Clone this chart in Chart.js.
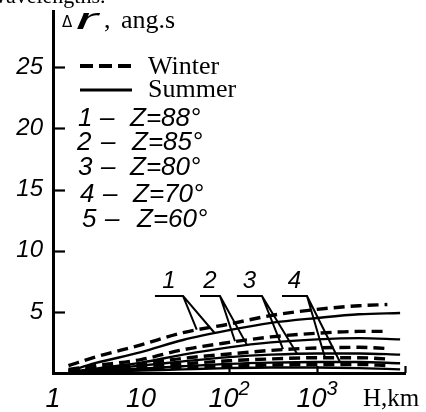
<!DOCTYPE html>
<html><head><meta charset="utf-8">
<script src="https://cdn.jsdelivr.net/npm/chart.js@4"></script>
<style>
html,body{margin:0;padding:0;background:#fff;}
#wrap{position:relative;width:426px;height:412px;overflow:hidden;background:#fff;}
#c{position:absolute;left:0;top:0;}
#ov{position:absolute;left:0;top:0;pointer-events:none;}
.serif{font-family:'Liberation Serif','Times New Roman',serif;}
.isans{font-family:'Liberation Sans',Arial,sans-serif;font-style:italic;}
</style></head><body>
<div id="wrap">
<canvas id="c" width="426" height="412"></canvas>
<svg id="ov" width="426" height="412" xmlns="http://www.w3.org/2000/svg">
  <text class="serif" x="-10" y="3" font-size="22">wavelengths.</text>
  <text x="62" y="27" font-size="15" font-family="DejaVu Sans">Δ</text>
  <text class="isans" x="76" y="29" font-size="30" textLength="22" lengthAdjust="spacingAndGlyphs">r</text>
  <text class="serif" x="104" y="28" font-size="26">,</text>
  <text class="serif" x="121" y="28" font-size="26">ang.s</text>
  <line x1="80" y1="66" x2="131" y2="66" stroke="#000" stroke-width="4" stroke-dasharray="13 6"/>
  <text class="serif" x="148" y="74" font-size="26">Winter</text>
  <line x1="80" y1="90" x2="132" y2="90" stroke="#000" stroke-width="3"/>
  <text class="serif" x="148" y="97" font-size="26">Summer</text>
  <g id="zkey"></g>
  <text class="serif" x="363" y="406" font-size="25">H,km</text>
  <g id="xlabels"></g>
  <g id="clabels"></g>
</svg>
</div>
<script>
// ---- data ----
const hWinter = [1.5, 3, 10, 30, 100, 300, 1000, 3000, 6300];
const hSummer = [1.6, 3, 10, 30, 100, 300, 1000, 3000, 8800];

const winter1 = [0.6, 1.3, 2.3, 3.3, 4.0, 4.7, 5.2, 5.5, 5.6];
const summer1 = [0.2, 0.8, 1.7, 2.7, 3.5, 4.1, 4.5, 4.8, 4.9];
const winter2 = [0.3, 0.6, 1.1, 1.9, 2.5, 2.95, 3.25, 3.4, 3.4];
const summer2 = [0.1, 0.35, 0.85, 1.5, 2.1, 2.5, 2.75, 2.85, 2.75];
const winter3 = [0.2, 0.4, 0.75, 1.2, 1.55, 1.85, 2.05, 2.1, 2.0];
const summer3 = [0.05, 0.25, 0.6, 0.95, 1.3, 1.5, 1.6, 1.6, 1.5];
const winter4 = [0.15, 0.3, 0.5, 0.75, 1.0, 1.15, 1.25, 1.25, 1.15];
const summer4 = [0.05, 0.15, 0.35, 0.55, 0.75, 0.85, 0.9, 0.9, 0.8];
const winter5 = [0.1, 0.2, 0.3, 0.45, 0.55, 0.65, 0.7, 0.7, 0.6];
const summer5 = [0.02, 0.1, 0.2, 0.3, 0.4, 0.45, 0.45, 0.4, 0.3];

const zenithNumbers = ['1', '2', '3', '4', '5'];
const zenithLabels = ['Z=88°', 'Z=85°', 'Z=80°', 'Z=70°', 'Z=60°'];

const yTickValues = [5, 10, 15, 20, 25];
const xTickValues = [1, 10, 100, 1000];
const xTickBase = ['1', '10', '10', '10'];
const xTickSup = ['', '', '2', '3'];
const xTickMarks = [100, 1000, 10000];

// curve-number leaders (data units)
const leaderLabels = ['1', '2', '3', '4'];
const leaderStartH = [14.4, 46.8, 123, 400];
const leaderCornerH = [30, 79, 237, 770];
const leaderLevel = 6.3;
const leaderLabelLevel = 6.95;
const tipWinterH = [43, 117, 411, 1233];
const tipWinterV = [3.55, 2.6, 1.95, 1.25];
const tipSummerH = [69, 160, 593, 1824];
const tipSummerV = [3.25, 2.3, 1.58, 0.9];

// ---- build ----
const winterSeries = [winter1, winter2, winter3, winter4, winter5];
const summerSeries = [summer1, summer2, summer3, summer4, summer5];
const datasets = [];
winterSeries.forEach((vals, k) => {
  datasets.push({
    label: 'Winter ' + zenithLabels[k],
    data: hWinter.map((h, i) => ({x: h, y: vals[i]})),
    borderColor: '#000', borderWidth: 3.4, borderDash: [11, 6],
    pointRadius: 0, cubicInterpolationMode: 'monotone', fill: false
  });
  datasets.push({
    label: 'Summer ' + zenithLabels[k],
    data: hSummer.map((h, i) => ({x: h, y: summerSeries[k][i]})),
    borderColor: '#000', borderWidth: 2.4,
    pointRadius: 0, cubicInterpolationMode: 'monotone', fill: false
  });
});

const SVGNS = 'http://www.w3.org/2000/svg';
function svgText(parent, x, y, str, size, anchor) {
  const t = document.createElementNS(SVGNS, 'text');
  t.setAttribute('x', x); t.setAttribute('y', y);
  t.setAttribute('font-size', size);
  t.setAttribute('class', 'isans');
  if (anchor) t.setAttribute('text-anchor', anchor);
  t.textContent = str;
  parent.appendChild(t);
  return t;
}

// legend key rows
const keyG = document.getElementById('zkey');
const rowBase = [126, 150, 175, 202, 227];
const numX = [78, 77, 78, 80, 82];
const dashX = [100, 101, 101, 103, 105];
const zX = [130, 132, 130, 133, 137];
zenithNumbers.forEach((n, i) => {
  svgText(keyG, numX[i], rowBase[i], n, 26);
  svgText(keyG, dashX[i], rowBase[i], '–', 26);
  svgText(keyG, zX[i], rowBase[i], zenithLabels[i], 26);
});

const decor = {
  id: 'decor',
  afterDraw(chart) {
    const {ctx, chartArea: a} = chart;
    const xs = chart.scales.x, ys = chart.scales.y;
    ctx.save();
    ctx.strokeStyle = '#000';
    ctx.lineWidth = 2.2;
    yTickValues.forEach(v => {
      const py = Math.round(ys.getPixelForValue(v)) + 0.5;
      ctx.beginPath(); ctx.moveTo(a.left, py); ctx.lineTo(a.left + 12, py); ctx.stroke();
    });
    xTickMarks.forEach(h => {
      const px = Math.round(xs.getPixelForValue(h)) + 0.5;
      ctx.beginPath(); ctx.moveTo(px, a.bottom); ctx.lineTo(px, a.bottom - 7); ctx.stroke();
    });
    ctx.lineWidth = 2;
    leaderLabels.forEach((lab, i) => {
      const y0 = ys.getPixelForValue(leaderLevel);
      const xs0 = xs.getPixelForValue(leaderStartH[i]);
      const xc = xs.getPixelForValue(leaderCornerH[i]);
      ctx.beginPath();
      ctx.moveTo(xs0, y0); ctx.lineTo(xc, y0);
      ctx.lineTo(xs.getPixelForValue(tipWinterH[i]), ys.getPixelForValue(tipWinterV[i]));
      ctx.moveTo(xc, y0);
      ctx.lineTo(xs.getPixelForValue(tipSummerH[i]), ys.getPixelForValue(tipSummerV[i]));
      ctx.stroke();
    });
    ctx.restore();
    const g = document.getElementById('clabels');
    if (!g.childNodes.length) {
      leaderLabels.forEach((lab, i) => {
        const cx = (xs.getPixelForValue(leaderStartH[i]) + xs.getPixelForValue(leaderCornerH[i])) / 2;
        svgText(g, cx.toFixed(1), ys.getPixelForValue(leaderLabelLevel).toFixed(1), lab, 24, 'middle');
      });
      const xg = document.getElementById('xlabels');
      xTickValues.forEach((v, i) => {
        const t = svgText(xg, xs.getPixelForValue(v).toFixed(1), 407, xTickBase[i], 27, 'middle');
        if (xTickSup[i]) {
          const sp = document.createElementNS(SVGNS, 'tspan');
          sp.setAttribute('dy', '-12');
          sp.setAttribute('font-size', '20');
          sp.textContent = xTickSup[i];
          t.appendChild(sp);
        }
      });
    }
  }
};

const tickFontY = {family: 'Liberation Sans', size: 24, style: 'italic'};

new Chart(document.getElementById('c'), {
  type: 'line',
  data: {datasets},
  options: {
    responsive: false, animation: false, devicePixelRatio: 1,
    layout: {padding: {top: 11, right: 21, left: 0, bottom: 0}},
    plugins: {legend: {display: false}, tooltip: {enabled: false}},
    scales: {
      x: {
        type: 'logarithmic', min: 1, max: 10000, position: 'bottom',
        afterFit(s) { s.height = 39; s.paddingLeft = 0; s.paddingRight = 0; },
        afterBuildTicks(s) { s.ticks = xTickValues.map(v => ({value: v})); },
        grid: {display: true, drawOnChartArea: false, drawTicks: false},
        border: {display: true, color: '#000', width: 3},
        ticks: {display: false, autoSkip: false}
      },
      y: {
        type: 'linear', min: 0, max: 29.6, position: 'left',
        afterFit(s) { s.width = 53; s.paddingTop = 0; s.paddingBottom = 0; },
        afterBuildTicks(s) { s.ticks = yTickValues.map(v => ({value: v})); },
        grid: {display: true, drawOnChartArea: false, drawTicks: false},
        border: {display: true, color: '#000', width: 3},
        ticks: {color: '#000', padding: 10, font: tickFontY, callback: v => String(v)}
      }
    }
  },
  plugins: [decor]
});
</script>
</body></html>
